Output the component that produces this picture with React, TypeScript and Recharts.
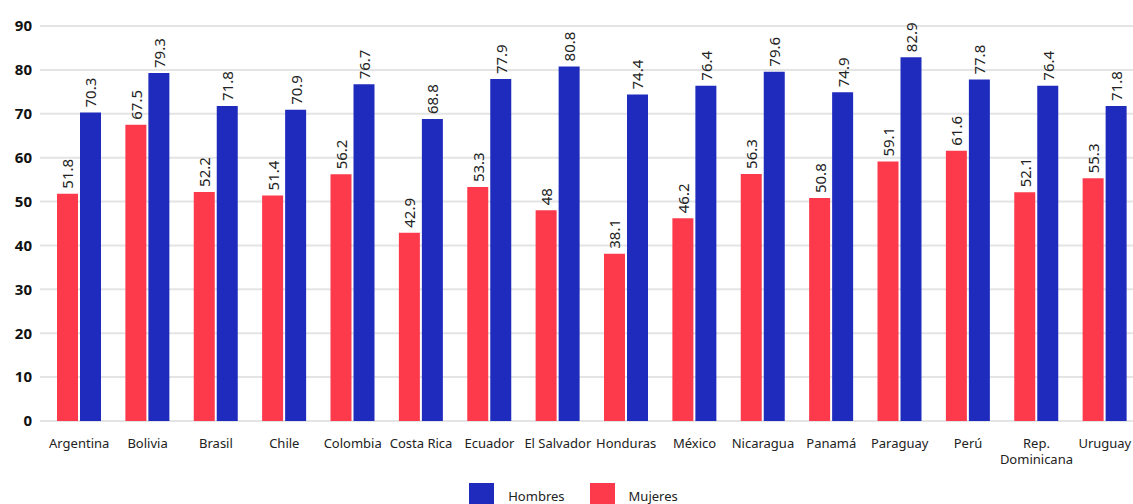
import React from "react";
import { BarChart, Bar, XAxis, YAxis, CartesianGrid, Legend, LabelList } from "recharts";

const categories = ["Argentina", "Bolivia", "Brasil", "Chile", "Colombia", "Costa Rica", "Ecuador", "El Salvador", "Honduras", "México", "Nicaragua", "Panamá", "Paraguay", "Perú", "Rep. Dominicana", "Uruguay"];
const mujeres = [51.8, 67.5, 52.2, 51.4, 56.2, 42.9, 53.3, 48, 38.1, 46.2, 56.3, 50.8, 59.1, 61.6, 52.1, 55.3];
const hombres = [70.3, 79.3, 71.8, 70.9, 76.7, 68.8, 77.9, 80.8, 74.4, 76.4, 79.6, 74.9, 82.9, 77.8, 76.4, 71.8];
const yTicks = [0, 10, 20, 30, 40, 50, 60, 70, 80, 90];

const RED = "#fd3a4c";
const BLUE = "#1f2bbd";
const FONT = "'Noto Sans', 'Open Sans', sans-serif";

const data = categories.map((c, i) => ({ name: c, Mujeres: mujeres[i], Hombres: hombres[i] }));

const XTick = (props: any) => {
  const { x, y, payload } = props;
  const label: string = payload.value;
  const lines = label.length > 12 ? label.split(" ") : [label];
  return (
    <text x={x} y={y} textAnchor="middle" fontSize={13} fill="#222" fontFamily={FONT}>
      {lines.map((l, i) => (
        <tspan key={i} x={x} dy={i === 0 ? 19 : 16}>{l}</tspan>
      ))}
    </text>
  );
};

const ValueLabel = (props: any) => {
  const { x, y, width, value } = props;
  const cx = x + width / 2;
  const cy = y - 5;
  return (
    <text x={cx} y={cy} transform={`rotate(-90, ${cx}, ${cy})`} textAnchor="start" dominantBaseline="central" fontSize={15} fill="#222" fontFamily={FONT}>
      {value}
    </text>
  );
};

const LegendContent = () => (
  <div style={{ display: "flex", justifyContent: "center", height: 25, fontFamily: FONT, fontSize: 13, color: "#222" }}>
    <div style={{ display: "flex", alignItems: "center", marginRight: 25 }}>
      <span style={{ display: "inline-block", width: 25, height: 25, background: BLUE, marginRight: 14 }} />
      <span>Hombres</span>
    </div>
    <div style={{ display: "flex", alignItems: "center" }}>
      <span style={{ display: "inline-block", width: 25, height: 25, background: RED, marginRight: 14 }} />
      <span>Mujeres</span>
    </div>
  </div>
);

export default function App() {
  return (
    <div style={{ position: "absolute", left: 8, top: 8, width: 1125, height: 496, overflow: "hidden", background: "#fff" }}>
      <BarChart width={1131} height={500} data={data} margin={{ top: 18, right: 0, bottom: 0, left: 0 }} barGap={2} barSize={21} barCategoryGap={12}>
        <CartesianGrid vertical={false} stroke="#e4e4e4" strokeWidth={2} />
        <XAxis dataKey="name" axisLine={false} tickLine={false} interval={0} height={62} tick={<XTick />} padding={{ left: 5, right: 0 }} />
        <YAxis domain={[0, 90]} ticks={yTicks} width={32} axisLine={false} tickLine={false} tick={{ fontSize: 15, fontWeight: 700, fill: "#111", fontFamily: FONT }} />
        <Legend verticalAlign="bottom" align="center" height={25} content={<LegendContent />} />
        <Bar dataKey="Mujeres" fill={RED} isAnimationActive={false}>
          <LabelList dataKey="Mujeres" content={<ValueLabel />} />
        </Bar>
        <Bar dataKey="Hombres" fill={BLUE} isAnimationActive={false}>
          <LabelList dataKey="Hombres" content={<ValueLabel />} />
        </Bar>
      </BarChart>
    </div>
  );
}
